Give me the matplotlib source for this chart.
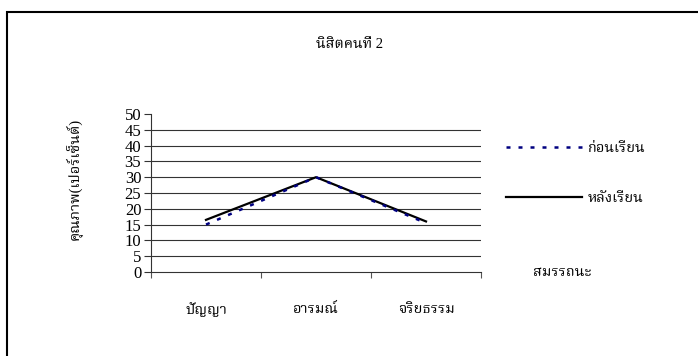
import matplotlib
matplotlib.use("Agg")
import matplotlib.pyplot as plt
import numpy as np
from matplotlib.patches import Rectangle

# data
categories = ['ปัญญา', 'อารมณ์', 'จริยธรรม']
before = [15, 30, 15.5]   # ก่อนเรียน
after = [16.5, 30, 16]    # หลังเรียน
yticks = list(range(0, 51, 5))

plt.rcParams['font.family'] = ['Liberation Serif', 'Noto Serif Thai']
plt.rcParams['font.size'] = 10.5

fig = plt.figure(figsize=(6.98, 3.56), dpi=100)
ax = fig.add_axes([151 / 698, 1 - 272 / 356, 330 / 698, 158 / 356])

x = np.arange(len(categories)) + 0.5
ax.plot(x, after, color='black', lw=1.6, label='หลังเรียน', zorder=3)
ax.plot(x, before, color='#000080', lw=1.8, dashes=(1.6, 3.2), label='ก่อนเรียน', zorder=4)

ax.set_xlim(0, len(categories))
ax.set_ylim(0, 50)
ax.set_yticks(yticks)
ax.set_xticks(range(len(categories) + 1))
ax.set_xticklabels([])
ax.tick_params(axis='y', direction='out', length=5, width=0.8, colors='#333333',
               labelcolor='black', labelsize=12, pad=2)
ax.tick_params(axis='x', direction='out', length=4, width=0.8, colors='#555555')
for v in yticks[1:-1]:
    ax.axhline(v, color='#333333', lw=0.8, zorder=1)
for s in ['top', 'right']:
    ax.spines[s].set_visible(False)
ax.spines['left'].set_color('#333333')
ax.spines['bottom'].set_color('#333333')

# category labels
for xi, c in zip(x, categories):
    ax.annotate(c, (xi, 0), xytext=(0, -27), textcoords='offset points', ha='center', va='center')

ax.set_ylabel('คุณภาพ(เปอร์เซ็นต์)', labelpad=0)
ax.yaxis.set_label_coords(-68 / 330, 0.59)

fig.text(350 / 698, 1 - 45 / 356, 'นิสิตคนที่ 2', ha='center', va='center')
fig.text(533 / 698, 1 - 273 / 356, 'สมรรถนะ', ha='left', va='center')

h, l = ax.get_legend_handles_labels()
fig.legend(h[::-1], l[::-1], loc='upper left', bbox_to_anchor=(493 / 698, 1 - 129 / 356),
           frameon=False, handlelength=5.2, labelspacing=2.5, handletextpad=0.4)

# outer border of the chart area
fig.add_artist(Rectangle((7 / 698, -0.2), 1.2, 1.2 - 12 / 356, transform=fig.transFigure,
                         fill=False, lw=1.5, edgecolor='black'))

fig.savefig('out.png', dpi=100)
